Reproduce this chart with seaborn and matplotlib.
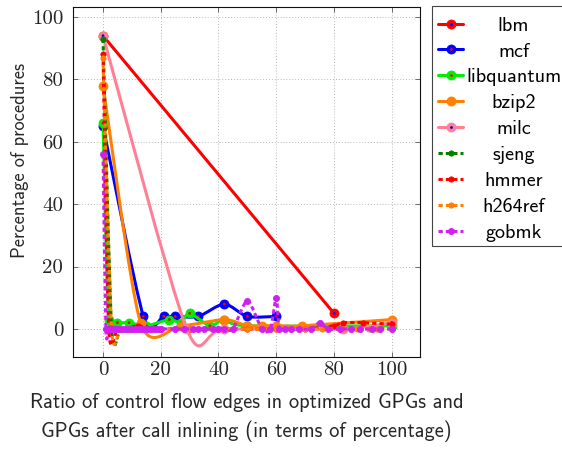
import numpy as np
import matplotlib
matplotlib.use("Agg")
import matplotlib.pyplot as plt
import seaborn as sns
from matplotlib.path import Path
from matplotlib.patches import PathPatch, Rectangle
from matplotlib.lines import Line2D

# ---------------- data ----------------
lbm_x = [0, 80]
lbm_y = [94, 5]

mcf_x = [0, 14, 21, 25, 33, 42, 50, 60]
mcf_y = [65, 4, 4, 4, 4, 8, 4, 4]

libquantum_x = [0, 2, 5, 9, 15, 23, 27, 30, 37, 42, 50, 100]
libquantum_y = [66, 3, 2, 2, 1, 3, 2, 5, 1, 3, 1, 1]

bzip2_x = [0, 13, 27, 42, 50, 55, 60, 69, 100]
bzip2_y = [78, 2, 1, 3, 1, 1, 1, 1, 3]

milc_x = [0, 29, 42, 83, 100]
milc_y = [94, 0, 0, 0, 2]

sjeng_x = [0, 3, 6, 10, 15, 20]
sjeng_y = [93, 0, 0, 0, 0, 0]

hmmer_x = [0, 2, 5, 8, 12, 16, 20, 30, 40, 50, 60, 70, 80, 83, 90, 100]
hmmer_y = [88, 0, 0, 0, 1, 0, 0, 0, 0, 0, 0, 0, 1, 2, 2, 1.5]

h264ref_x = [0, 3, 6, 10, 15, 20, 30, 40, 50, 60, 70, 76, 83, 88, 92, 95, 100]
h264ref_y = [87, 0, 0, 0, 0, 0, 0, 0, 0, 0, 0, 0, 0, 0, 0, 0, 0]

gobmk_x = [0, 1, 2, 3, 4, 5, 6, 7, 8, 9, 10, 11, 12, 13, 14, 15, 16, 17, 18,
           19, 20, 25, 28, 31, 33, 35, 38, 40, 42, 45, 50, 55, 58, 60, 61, 63,
           65, 68, 72, 75, 78, 82, 86, 89, 93, 96, 100]
gobmk_y = [56, 0, 0, 0, 0, 0, 0, 0, 0, 0, 0, 0, 0, 0, 0, 0, 0, 0, 0,
           0, 0, 0, 0, 0, 0, 0, 0, 0, 0, 0, 9, 0, 0, 10, 0, 0,
           0, 0, 0, 2, 0, 0, 0, 0, 0, 0, 0]

labels = ["lbm", "mcf", "libquantum", "bzip2", "milc",
          "sjeng", "hmmer", "h264ref", "gobmk"]
xs = [lbm_x, mcf_x, libquantum_x, bzip2_x, milc_x, sjeng_x, hmmer_x, h264ref_x, gobmk_x]
ys = [lbm_y, mcf_y, libquantum_y, bzip2_y, milc_y, sjeng_y, hmmer_y, h264ref_y, gobmk_y]

x_ticks = [0, 20, 40, 60, 80, 100]
y_ticks = [0, 20, 40, 60, 80, 100]

# ---------------- styles ----------------
DASH = (0, (1.4, 1.0))
styles = [
    dict(color="#ff0000", ls="-", ms=6.5, center="#0000ff"),
    dict(color="#0000ff", ls="-", ms=6.5, center="#ff0000"),
    dict(color="#00ee00", ls="-", ms=6.5, center="#ff0000"),
    dict(color="#ff8000", ls="-", ms=6.5, center=None),
    dict(color="#ff8095", ls="-", ms=6.5, center="#0000ff"),
    dict(color="#008000", ls=DASH, ms=3.8, center=None),
    dict(color="#ff0000", ls=DASH, ms=3.8, center=None),
    dict(color="#ff8000", ls=DASH, ms=3.8, center=None),
    dict(color="#d020f0", ls=DASH, ms=4.4, center=None),
]

sns.set_theme(style="white")
plt.rcParams["font.family"] = ["cmss10", "DejaVu Sans"]
plt.rcParams["axes.unicode_minus"] = False
plt.rcParams["axes.formatter.use_mathtext"] = True

W, H = 562, 450
fig = plt.figure(figsize=(W / 100, H / 100), dpi=100)
ax = fig.add_axes([73 / W, 1 - 357 / H, (420 - 73) / W, (357 - 7) / H])

TENSION = 0.13


def smooth_path(x, y):
    pts = np.column_stack([x, y]).astype(float)
    n = len(pts)
    verts = [pts[0]]
    codes = [Path.MOVETO]
    for i in range(n - 1):
        p0, p1 = pts[i], pts[i + 1]
        prev = pts[i - 1] if i > 0 else pts[i]
        nxt = pts[i + 2] if i + 2 < n else pts[i + 1]
        c1 = p0 + TENSION * (p1 - prev)
        c2 = p1 - TENSION * (nxt - p0)
        verts += [c1, c2, p1]
        codes += [Path.CURVE4] * 3
    return Path(verts, codes)


LW = 2.2
for k, (x, y, st) in enumerate(zip(xs, ys, styles)):
    z = 3 + k * 3
    patch = PathPatch(smooth_path(x, y), facecolor="none", edgecolor=st["color"],
                      linewidth=LW, linestyle=st["ls"], zorder=z, capstyle="butt",
                      joinstyle="round")
    ax.add_patch(patch)
    sns.scatterplot(x=x, y=y, ax=ax, color=st["color"], s=st["ms"] ** 2,
                    edgecolor=st["color"], linewidth=0.6, zorder=z + 1,
                    legend=False, marker="o")
    if st["center"]:
        sns.scatterplot(x=x, y=y, ax=ax, color=st["center"], s=2.0 ** 2,
                        edgecolor="none", linewidth=0, zorder=z + 2,
                        legend=False, marker="o")

ax.set_xlim(-10.4, 109.8)
ax.set_ylim(-9.0, 103.2)
ax.set_xticks(x_ticks)
ax.set_yticks(y_ticks)
ax.set_xticklabels([str(t) for t in x_ticks], fontfamily="cmr10", fontsize=15)
ax.set_yticklabels([str(t) for t in y_ticks], fontfamily="cmr10", fontsize=15)
ax.tick_params(direction="in", length=3.5, width=0.6, color="#555555",
               top=True, right=True, bottom=True, left=True)
ax.tick_params(axis="x", pad=3)
ax.tick_params(axis="y", pad=7)
ax.grid(True, color="#b8b8b8", linestyle=(0, (1, 2)), linewidth=0.7)
ax.set_axisbelow(True)
for sp in ax.spines.values():
    sp.set_color("#111111")
    sp.set_linewidth(0.8)
ax.set_facecolor("white")

ax.set_xlabel("Ratio of control flow edges in optimized GPGs and\n"
              "GPGs after call inlining (in terms of percentage)",
              fontsize=14.7, linespacing=1.5)
ax.xaxis.set_label_coords(0.5, -0.104, transform=ax.transAxes)
ax.xaxis.label.set_va("top")
ax.set_ylabel("Percentage of procedures", fontsize=13.3)
ax.yaxis.label.set_va("center")
ax.yaxis.set_label_coords(-0.152, 0.561)

# ---------------- legend (pgfplots style: centred labels) ----------------
LFS = 14.5
fx = lambda px: px / W
fy = lambda py: 1 - py / H
fig.add_artist(Rectangle((fx(432), fy(246)), (575 - 432) / W, 240 / H,
                         transform=fig.transFigure, facecolor="white",
                         edgecolor="#444444", linewidth=0.8, zorder=10))
for i, (lab, st) in enumerate(zip(labels, styles)):
    yc = 23.5 + 25.9 * i
    fig.add_artist(Line2D([fx(438), fx(463)], [fy(yc), fy(yc)],
                          transform=fig.transFigure, color=st["color"], lw=LW,
                          ls=st["ls"], zorder=11))
    fig.add_artist(Line2D([fx(450.5)], [fy(yc)], transform=fig.transFigure,
                          ls="none", marker="o", markersize=st["ms"],
                          markerfacecolor=st["color"], markeredgecolor=st["color"],
                          markeredgewidth=0.6, zorder=12))
    if st["center"]:
        fig.add_artist(Line2D([fx(450.5)], [fy(yc)], transform=fig.transFigure,
                              ls="none", marker="o", markersize=2.0,
                              markerfacecolor=st["center"], markeredgecolor="none",
                              zorder=13))
    fig.text(fx(513.5), fy(yc + 7.2), lab, ha="center", va="baseline",
             fontsize=LFS, color="black", family=["cmss10", "DejaVu Sans"],
             zorder=14)

fig.savefig("out.png", dpi=100)
